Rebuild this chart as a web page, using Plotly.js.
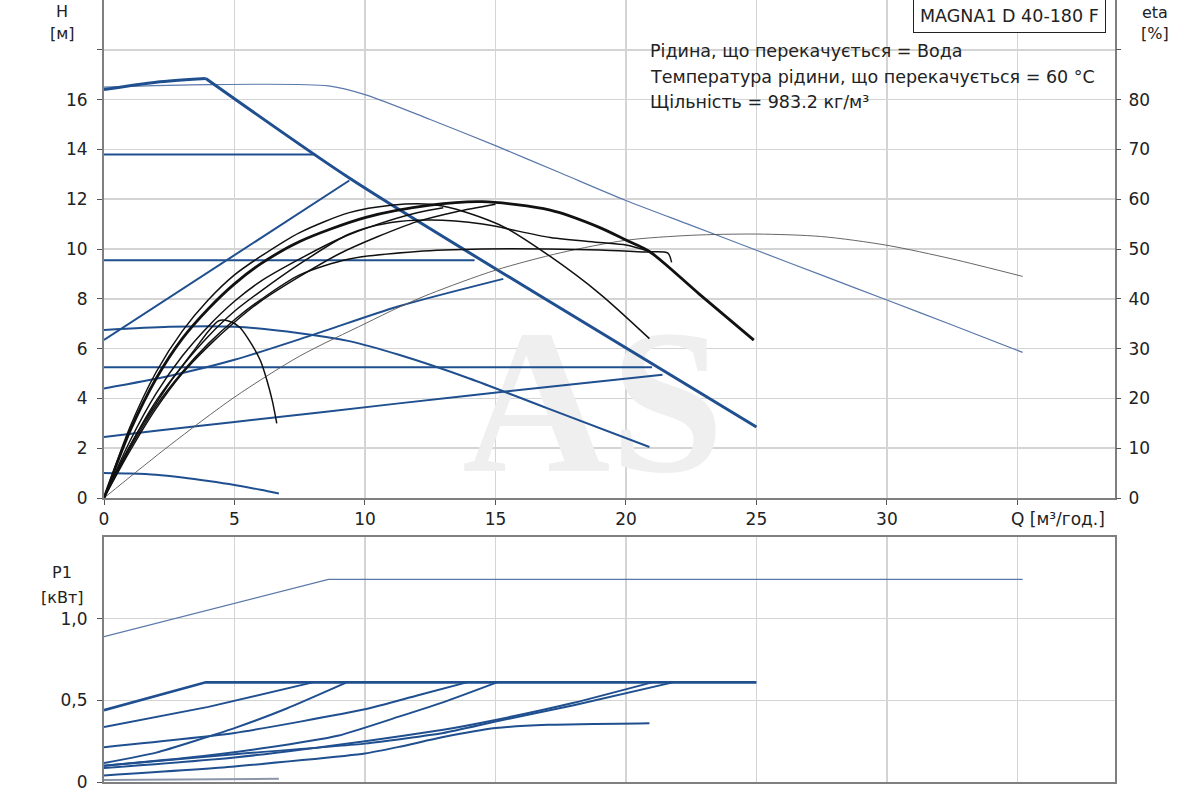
<!DOCTYPE html>
<html>
<head>
<meta charset="utf-8">
<script src="https://cdn.plot.ly/plotly-3.0.1.min.js"></script>
<style>
  html, body { margin: 0; padding: 0; background: #fff; }
  #chart { width: 1200px; height: 800px; }
</style>
</head>
<body>
<div id="chart"></div>
<script>
// Q [m3/h] / H [m] setting curves (blue)
const qMax = [0, 4, 8.6, 10, 12.5, 15, 17.5, 20, 22.5, 25, 27.5, 30, 32.5, 35.2];
const hMax = [16.5, 16.6, 16.55, 16.2, 15.2, 14.15, 13.05, 11.95, 10.95, 9.95, 8.95, 7.95, 6.95, 5.85];
const qIIIa = [0, 2, 3.9], hIIIa = [16.4, 16.7, 16.85];
const qIIIb = [3.9, 9.43, 16.58, 25], hIIIb = [16.85, 12.83, 8.2, 2.85];
const qCP3 = [0, 8.1], hCP3 = [13.8, 13.8];
const qCP2 = [0, 14.2], hCP2 = [9.55, 9.55];
const qCP1 = [0, 21.0], hCP1 = [5.25, 5.25];
const qPP3 = [0, 9.4], hPP3 = [6.35, 12.75];
const qPP2 = [0, 2.5, 5, 8, 11.3, 15.3];
const hPP2 = [4.4, 4.9, 5.55, 6.55, 7.7, 8.8];
const qPP1 = [0, 2, 5, 11.3, 16, 21.4];
const hPP1 = [2.45, 2.7, 3.05, 3.8, 4.35, 4.95];
const qII = [0, 2.5, 5, 7.5, 9.4, 11.3, 14, 17, 20.9];
const hII = [6.75, 6.88, 6.88, 6.62, 6.3, 5.75, 4.8, 3.6, 2.05];
const qI = [0, 1, 2, 3, 4, 5, 6, 6.7];
const hI = [1.0, 0.98, 0.93, 0.82, 0.68, 0.52, 0.33, 0.18];

// eta [%] curves (black)
const qEtaMax = [0, 2.5, 5, 7.5, 10, 11.3, 12.5, 15, 17.5, 20, 22.5, 25, 27.5, 30, 32.5, 35.2];
const etaMax = [0, 10.5, 20.25, 28.5, 35, 38.3, 41, 45.75, 49.25, 51.75, 52.75, 53, 52.5, 50.75, 48, 44.5];
const qEta1 = [0, 1, 2, 3, 4, 5, 6, 7.5, 10, 12.5, 14.5, 17.1, 19, 20, 20.9, 22.8, 24.9];
const eta1 = [0, 13.5, 24, 32, 38, 43, 47, 51.5, 56.3, 58.8, 59.5, 57.8, 54.3, 51.8, 49.5, 41, 31.7];
const qEta2 = [0, 1, 2, 3, 4, 5, 6, 7.5, 9.4, 11, 12.5, 13.5, 15.3, 17.1, 19, 20.9];
const eta2 = [0, 14.3, 25.3, 33.5, 39.8, 44.8, 48.5, 53.3, 57.3, 58.8, 59, 58, 54.5, 48.5, 41, 32];
const qEta3 = [0, 1, 2, 3, 4, 5, 6, 7.5, 9.4, 11, 12.5, 14.5, 17.1, 19, 20, 20.9];
const eta3 = [0, 10.5, 19.5, 26.5, 32.5, 37.5, 41.5, 47, 53, 55.3, 55.8, 55, 52.3, 51.3, 50.8, 49.5];
const qEta4 = [0, 1, 2, 3, 4, 5, 6, 7.5, 9.4, 12, 14.5, 17, 19, 20.65, 21.6, 21.75];
const eta4 = [0, 10, 18.5, 25.3, 31, 35.8, 39.8, 44.8, 48, 49.5, 50, 50, 49.8, 49.4, 49.2, 47.3];
const qEta5 = [0, 1, 2, 3, 4, 5, 6, 7.5, 9, 10.5, 12, 13.5, 15];
const eta5 = [0, 9.5, 18, 25, 30.5, 35.3, 39.5, 44.5, 49, 52.5, 55.5, 57.5, 59];
const qEta6 = [0, 1, 2, 3, 4, 5, 6, 7.5, 9, 10.5, 12, 13];
const eta6 = [0, 11.5, 21, 28.5, 34.5, 39.5, 43.5, 48, 52, 55, 57.3, 58.3];
const qEta7 = [0, 0.5, 1, 1.5, 2, 2.5, 3, 3.5, 4, 4.4, 4.8, 5.2, 5.7, 6.0, 6.25, 6.45, 6.62];
const eta7 = [0, 5.5, 10.5, 15, 19, 23, 26.5, 30, 33.5, 35.6, 35.5, 34.3, 30.5, 27.5, 23.5, 19.5, 15];

// P1 [kW] curves (blue)
const qPMax = [0, 8.6, 35.2], pMax = [0.89, 1.24, 1.24];
const qPIII = [0, 3.9, 25], pIII = [0.44, 0.61, 0.61];
const qPCP3 = [0, 4, 8], pCP3 = [0.337, 0.46, 0.61];
const qPCP2 = [0, 5, 10, 12, 13.9], pCP2 = [0.213, 0.30, 0.445, 0.53, 0.61];
const qPPP3 = [0, 2, 5, 7, 9.3], pPP3 = [0.116, 0.18, 0.33, 0.45, 0.61];
const qPPP2 = [0, 3, 6, 9, 11.3, 13.2, 15.06], pPP2 = [0.1, 0.145, 0.205, 0.285, 0.40, 0.5, 0.61];
const qPPP1 = [0, 5, 10, 13, 15, 18, 21.0], pPP1 = [0.085, 0.15, 0.25, 0.32, 0.38, 0.485, 0.61];
const qPCP1 = [0, 5, 10, 13, 15, 18, 21.8], pCP1 = [0.10, 0.17, 0.235, 0.30, 0.37, 0.47, 0.61];
const qPII = [0, 5, 10, 11.3, 13, 15, 17, 20.9], pII = [0.04, 0.095, 0.175, 0.215, 0.275, 0.33, 0.35, 0.36];
const qPI = [0, 3, 6.7], pI = [0.012, 0.015, 0.02];

const xTicks = [0, 5, 10, 15, 20, 25, 30, 35];
const xTickText = ['0', '5', '10', '15', '20', '25', '30', ''];
const hTicks = [0, 2, 4, 6, 8, 10, 12, 14, 16, 18];
const hTickText = ['0', '2', '4', '6', '8', '10', '12', '14', '16', ''];
const etaTicks = [0, 10, 20, 30, 40, 50, 60, 70, 80, 90];
const etaTickText = ['0', '10', '20', '30', '40', '50', '60', '70', '80', ''];
const pTicks = [0, 0.5, 1.0];
const pTickText = ['0', '0,5', '1,0'];

const blue = '#1f4f8f';
const thinBlue = '#5a78aa';

function hLine(x, y, w, color, shape) {
  return {x: x, y: y, xaxis: 'x', yaxis: 'y', mode: 'lines',
    line: {color: color || blue, width: w || 2, shape: shape || 'linear', smoothing: 0.8}};
}
function etaLine(x, y, w, color) {
  return {x: x, y: y, xaxis: 'x', yaxis: 'y2', mode: 'lines',
    line: {color: color || '#111', width: w || 1.5, shape: 'spline', smoothing: 0.8}};
}
function pLine(x, y, w, color, shape) {
  return {x: x, y: y, xaxis: 'x2', yaxis: 'y3', mode: 'lines',
    line: {color: color || blue, width: w || 2, shape: shape || 'spline', smoothing: 0.5}};
}

const data = [
  hLine(qMax, hMax, 1.2, thinBlue, 'spline'),
  hLine(qCP3, hCP3), hLine(qCP2, hCP2), hLine(qCP1, hCP1),
  hLine(qPP3, hPP3), hLine(qPP2, hPP2, 2, blue, 'spline'), hLine(qPP1, hPP1, 2, blue, 'spline'),
  hLine(qII, hII, 2, blue, 'spline'), hLine(qI, hI, 2, blue, 'spline'),
  hLine(qIIIa, hIIIa, 3, blue, 'spline'), hLine(qIIIb, hIIIb, 3, blue, 'spline'),
  etaLine(qEtaMax, etaMax, 0.9, '#555'),
  etaLine(qEta7, eta7), etaLine(qEta6, eta6), etaLine(qEta5, eta5),
  etaLine(qEta4, eta4), etaLine(qEta3, eta3), etaLine(qEta2, eta2),
  etaLine(qEta1, eta1, 2.8),
  pLine(qPMax, pMax, 1.2, thinBlue, 'linear'),
  pLine(qPI, pI, 2, '#8c96aa', 'linear'),
  pLine(qPII, pII), pLine(qPCP1, pCP1), pLine(qPPP1, pPP1), pLine(qPPP2, pPP2),
  pLine(qPPP3, pPP3), pLine(qPCP2, pCP2), pLine(qPCP3, pCP3, 2, blue, 'linear'),
  pLine(qPIII, pIII, 2.6, blue, 'linear')
];

const tickFont = {family: 'DejaVu Sans', size: 17, color: '#222'};
const gridColor = '#d4d4d4';
const axisLine = '#7f7f7f';
const xDomain = [104 / 1200, 1115 / 1200];

function ann(text, xpx, ypx, opts) {
  return Object.assign({text: text, xref: 'paper', yref: 'paper',
    x: xpx / 1200, y: 1 - ypx / 800, xanchor: 'center', yanchor: 'middle', showarrow: false,
    font: {family: 'DejaVu Sans', size: 16, color: '#222'}}, opts || {});
}
const infoFont = {family: 'DejaVu Sans', size: 17.5, color: '#222'};

const layout = {
  width: 1200, height: 800,
  margin: {l: 0, r: 0, t: 0, b: 0},
  paper_bgcolor: '#fff', plot_bgcolor: '#fff',
  showlegend: false,
  xaxis: {domain: xDomain, range: [0, 38.74], anchor: 'y',
    tickvals: xTicks, ticktext: xTickText, tickfont: tickFont,
    ticks: 'outside', ticklen: 5, tickcolor: '#555',
    showgrid: true, gridcolor: gridColor, gridwidth: 1.5, zeroline: false,
    showline: true, linecolor: axisLine, linewidth: 2, mirror: true},
  yaxis: {domain: [1 - 498 / 800, 1], range: [0, 20],
    tickvals: hTicks, ticktext: hTickText, tickfont: tickFont,
    ticks: 'outside', ticklen: 5, tickcolor: '#555', ticklabelstandoff: 6,
    showgrid: true, gridcolor: gridColor, gridwidth: 1.5, zeroline: false,
    showline: true, linecolor: axisLine, linewidth: 2, mirror: true},
  yaxis2: {overlaying: 'y', side: 'right', anchor: 'x', range: [0, 100],
    tickvals: etaTicks, ticktext: etaTickText, tickfont: tickFont,
    ticks: 'outside', ticklen: 5, tickcolor: '#555', ticklabelstandoff: 4,
    showgrid: false, zeroline: false, showline: false},
  xaxis2: {domain: xDomain, range: [0, 38.74], anchor: 'y3',
    tickvals: xTicks, showticklabels: false, ticks: '',
    showgrid: true, gridcolor: gridColor, gridwidth: 1.5, zeroline: false,
    showline: true, linecolor: axisLine, linewidth: 2, mirror: true},
  yaxis3: {domain: [1 - 782 / 800, 1 - 537 / 800], range: [0, 1.5], anchor: 'x2',
    tickvals: pTicks, ticktext: pTickText, tickfont: tickFont,
    ticks: 'outside', ticklen: 5, tickcolor: '#555', ticklabelstandoff: 6,
    showgrid: true, gridcolor: gridColor, gridwidth: 1.5, zeroline: false,
    showline: true, linecolor: axisLine, linewidth: 2, mirror: true},
  shapes: [{
    type: 'rect', xref: 'x', yref: 'y', x0: 12.5, x1: 25, y0: 1.1, y1: 8.4,
    layer: 'between', line: {width: 0}, fillcolor: 'rgba(0,0,0,0)',
    label: {text: 'AS', textposition: 'middle center',
      font: {family: 'Liberation Serif', size: 205, color: '#efefef', weight: 'bold'}}
  }],
  annotations: [
    ann('H', 62, 11), ann('[м]', 62, 33),
    ann('eta', 1155, 12), ann('[%]', 1155, 34),
    ann('P1', 62, 572), ann('[кВт]', 62, 597),
    {text: 'Q [м³/год.]', xref: 'x', yref: 'paper', x: 35, y: 1 - 519 / 800,
      xanchor: 'left', yanchor: 'middle', xshift: -8, showarrow: false, font: tickFont},
    ann('MAGNA1 D 40-180 F', 1009, 16, {bordercolor: '#222', borderwidth: 1,
      borderpad: 6, bgcolor: '#fff', font: {family: 'DejaVu Sans', size: 17.5, color: '#222'}}),
    ann('Рідина, що перекачується = Вода', 648, 51, {xanchor: 'left', font: infoFont}),
    ann('Температура рідини, що перекачується = 60 °C', 648, 77, {xanchor: 'left', font: infoFont}),
    ann('Щільність = 983.2 кг/м³', 648, 102, {xanchor: 'left', font: infoFont})
  ]
};

Plotly.newPlot('chart', data, layout, {staticPlot: true, displayModeBar: false});
</script>
</body>
</html>
